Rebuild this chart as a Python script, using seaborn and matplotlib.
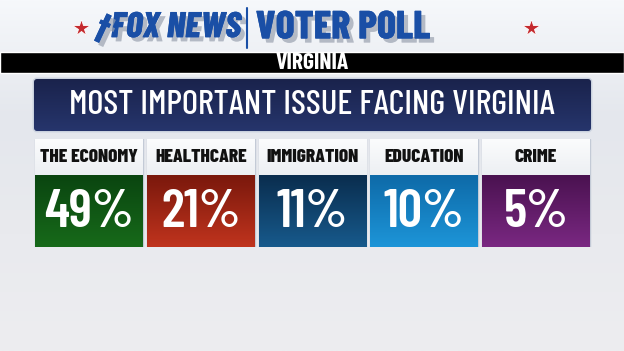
import numpy as np
import pandas as pd
import seaborn as sns
import matplotlib.pyplot as plt
import matplotlib.patheffects as pe
from matplotlib.colors import LinearSegmentedColormap
from matplotlib.patches import Rectangle, FancyBboxPatch

issues = ["THE ECONOMY", "HEALTHCARE", "IMMIGRATION", "EDUCATION", "CRIME"]
shares = [49, 21, 11, 10, 5]
top_colors = ["#0a4510", "#7a180c", "#0a2d4e", "#0e6aa8", "#4a1250"]
bottom_colors = ["#176a1a", "#c0341e", "#175a8c", "#1d95d8", "#7a2882"]

brand = "FOX NEWS"
poll = "VOTER POLL"
state = "VIRGINIA"
title = "MOST IMPORTANT ISSUE FACING VIRGINIA"

sns.set_theme(style="white")
plt.rcParams["font.family"] = ["Barlow Condensed", "DejaVu Sans"]

W, H = 624, 351
fig = plt.figure(figsize=(W / 100, H / 100), dpi=100)


def gradient(ax, patch, c_top, c_bottom, flip=False):
    # vertical gradient clipped to a patch
    bb = patch.get_bbox()
    cmap = LinearSegmentedColormap.from_list("g", [c_top, c_bottom])
    g = np.linspace(0, 1, 128).reshape(-1, 1)
    ext = [bb.x0, bb.x1, bb.y1, bb.y0] if flip else [bb.x0, bb.x1, bb.y0, bb.y1]
    im = ax.imshow(g, extent=ext, cmap=cmap, aspect="auto", origin="upper",
                   zorder=patch.get_zorder() + 0.1)
    im.set_clip_path(patch)


# background + header
bg = fig.add_axes([0, 0, 1, 1])
bg.set_xlim(0, W)
bg.set_ylim(H, 0)
bg.axis("off")
g = np.linspace(0, 1, 256).reshape(-1, 1)
bg.imshow(g, extent=[0, W, H, 0], aspect="auto", origin="upper",
          cmap=LinearSegmentedColormap.from_list("bg", ["#f6f8fb", "#e4e7ed", "#e9eaee", "#ededf0"]))
bg.add_patch(Rectangle((0, 52), W, 21, facecolor="black", zorder=2))
bg.text(W / 2, 63, state, color="white", fontsize=17, weight="bold", ha="center", va="center", zorder=3)

shadow = [pe.withSimplePatchShadow(offset=(3, -3), shadow_rgbFace="#9aa2b0", alpha=0.7), pe.Normal()]
bg.text(176, 28, brand, color="#1a4fa6", fontsize=26, weight=800, style="italic",
        ha="center", va="center", path_effects=shadow, zorder=3)
bg.text(103, 28, "\u2020", color="#1a4fa6", fontsize=24, weight=800, rotation=-25,
        ha="center", va="center", path_effects=shadow, zorder=3)
bg.plot([247, 247], [8, 48], color="#1a4fa6", lw=1.5, zorder=3)
bg.text(343, 28, poll, color="#1a4fa6", fontsize=28.5, weight=800,
        ha="center", va="center", path_effects=shadow, zorder=3)
bg.plot([81, 531], [28, 28], ls="none", marker="*", ms=13, color="#c42a2e",
        mec="white", mew=0.6, zorder=3)

# title box
box = FancyBboxPatch((34, 79), 557, 52, boxstyle="round,pad=0,rounding_size=3",
                     facecolor="#212d5e", edgecolor="#c9d1de", lw=2, zorder=2)
bg.add_patch(box)
gradient(bg, box, "#1a234c", "#26356c", flip=True)
bg.text(W / 2, 105, title, color="white", fontsize=25, weight=500,
        ha="center", va="center", zorder=4)

# cards
df = pd.DataFrame({"issue": issues, "share": shares})
card_h = (247 - 139) / (247 - 175)
cards = fig.add_axes([33 / W, (H - 247) / H, (592 - 33) / W, (247 - 139) / H])
sns.barplot(x=df["issue"], y=[card_h] * len(df), color="#e2e6ec", width=0.966,
            edgecolor="#c3cad6", linewidth=1, ax=cards)
sns.barplot(data=df, x="issue", y=[1] * len(df), hue="issue", palette=bottom_colors,
            width=0.966, legend=False, linewidth=0, ax=cards)
n = len(df)
for i, p in enumerate(cards.patches[:n]):
    gradient(cards, p, "#fbfcfd", "#cfd5de")
for i, p in enumerate(cards.patches[n:2 * n]):
    gradient(cards, p, top_colors[i], bottom_colors[i])

for i, row in df.iterrows():
    cards.text(i, 1 + (card_h - 1) / 2, row["issue"], ha="center", va="center",
               fontsize=14, weight=800, color="#111111", zorder=5)
    cards.text(i, 0.47, f"{row['share']}%", ha="center", va="center",
               fontsize=39, weight=600, color="white", zorder=5)

cards.set_xlim(-0.5, n - 0.5)
cards.set_ylim(0, card_h)
cards.axis("off")

fig.savefig("out.png", dpi=100)
